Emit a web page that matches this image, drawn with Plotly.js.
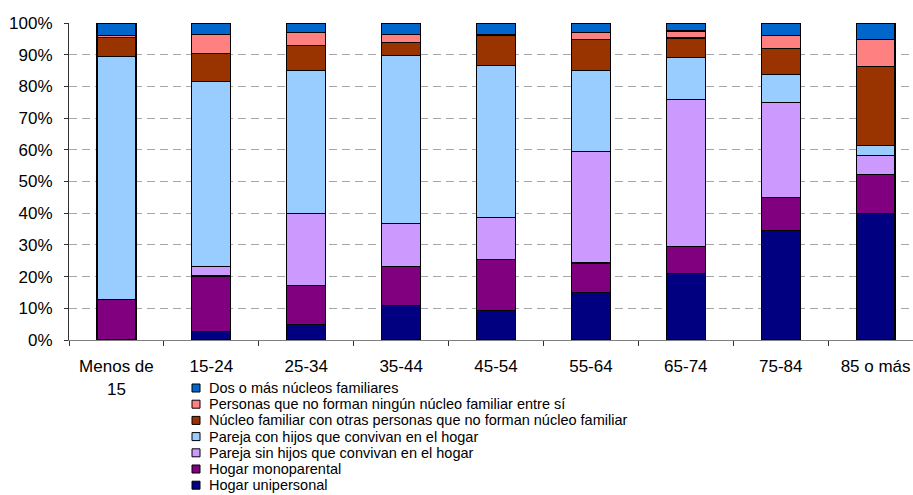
<!DOCTYPE html>
<html>
<head>
<meta charset="utf-8">
<script src="https://cdn.plot.ly/plotly-3.0.1.min.js"></script>
<style>
html,body{margin:0;padding:0;background:#fff;}
#chart{width:913px;height:495px;}
</style>
</head>
<body>
<div id="chart"></div>
<script>
// Categories (age groups)
const categories = ["Menos de<br>15","15-24","25-34","35-44","45-54","55-64","65-74","75-84","85 o más"];

// Series values (% of households), bottom of the stack first
const hogarUnipersonal   = [0.0, 2.6, 4.8, 10.8, 9.3, 14.9, 21.1, 34.5, 39.8];
const hogarMonoparental  = [12.9, 17.6, 12.3, 12.5, 16.0, 9.4, 8.4, 10.4, 12.4];
const parejaSinHijos     = [0.0, 3.0, 22.7, 13.4, 13.3, 35.1, 46.3, 29.9, 6.1];
const parejaConHijos     = [76.5, 58.4, 45.3, 53.0, 48.0, 25.7, 13.4, 8.9, 3.1];
const nucleoConOtras     = [6.0, 8.7, 7.7, 4.2, 9.4, 9.8, 6.1, 8.2, 24.8];
const personasSinNucleo  = [0.6, 6.2, 4.3, 2.5, 0.5, 2.0, 2.2, 4.1, 8.7];
const dosOMasNucleos     = [4.0, 3.5, 2.9, 3.6, 3.5, 3.1, 2.5, 4.0, 5.1];

// Series names in legend order (top to bottom)
const seriesNames = [
  "Dos o más núcleos familiares",
  "Personas que no forman ningún núcleo familiar entre sí",
  "Núcleo familiar con otras personas que no forman núcleo familiar",
  "Pareja con hijos que convivan en el hogar",
  "Pareja sin hijos que convivan en el hogar",
  "Hogar monoparental",
  "Hogar unipersonal"
];
const seriesValues = [dosOMasNucleos, personasSinNucleo, nucleoConOtras, parejaConHijos, parejaSinHijos, hogarMonoparental, hogarUnipersonal];
const seriesColors = ["#0066CC","#FF8080","#993300","#99CCFF","#CC99FF","#800080","#000080"];

const W = 913, H = 495;
const mL = 69, mR = 0, mT = 23, mB = 155;
const plotW = W - mL - mR, plotH = H - mT - mB;
const FONT = "Liberation Sans, Arial, sans-serif";

// traces: stack from bottom (last in legend order) upwards
const traces = [];
for (let i = seriesNames.length - 1; i >= 0; i--) {
  traces.push({
    type: "bar",
    name: seriesNames[i],
    x: categories,
    y: seriesValues[i],
    marker: {color: seriesColors[i], line: {color: "#000000", width: 1.2}},
    showlegend: false,
    hoverinfo: "name+y"
  });
}

// custom compact legend (annotations + swatches), in paper coordinates
const legLeftPx = 192, legTextPx = 207, legTopPx = 388, legStepPx = 16.2, sw = 8;
const px2x = p => (p - mL) / plotW;
const py2y = p => (H - mB - p) / plotH;
const annotations = [], shapes = [];
seriesNames.forEach((nm, i) => {
  const cy = legTopPx + i * legStepPx;
  shapes.push({
    type: "rect", xref: "paper", yref: "paper",
    x0: px2x(legLeftPx), x1: px2x(legLeftPx + sw),
    y0: py2y(cy + sw / 2), y1: py2y(cy - sw / 2),
    fillcolor: seriesColors[i], line: {color: "#000", width: 1}
  });
  annotations.push({
    xref: "paper", yref: "paper", x: px2x(legTextPx), y: py2y(cy),
    xanchor: "left", yanchor: "middle", showarrow: false,
    text: nm, font: {family: FONT, size: 14.5, color: "#000"}
  });
});

const layout = {
  width: W, height: H,
  margin: {l: mL, r: mR, t: mT, b: mB, pad: 0},
  paper_bgcolor: "#fff", plot_bgcolor: "#fff",
  barmode: "stack", bargap: 0.59,
  font: {family: FONT, size: 17, color: "#000"},
  xaxis: {
    type: "category", range: [-0.5, 8.394],
    showline: true, linecolor: "#808080", linewidth: 1,
    ticks: "outside", tickson: "boundaries", ticklen: 5, tickcolor: "#333",
    showgrid: false, tickfont: {family: FONT, size: 17, color: "#000"},
    ticklabelstandoff: 11, fixedrange: true
  },
  yaxis: {
    range: [0, 100], dtick: 10, ticksuffix: "%",
    showline: true, linecolor: "#333", linewidth: 1,
    ticks: "outside", ticklen: 4, tickcolor: "#333",
    showgrid: true, gridcolor: "#a6a6a6", gridwidth: 1, griddash: "8px,5px",
    zeroline: false, tickfont: {family: FONT, size: 17, color: "#000"},
    ticklabelstandoff: 8, fixedrange: true
  },
  shapes: shapes,
  annotations: annotations,
  showlegend: false
};

Plotly.newPlot("chart", traces, layout, {displayModeBar: false, staticPlot: true});
</script>
</body>
</html>
